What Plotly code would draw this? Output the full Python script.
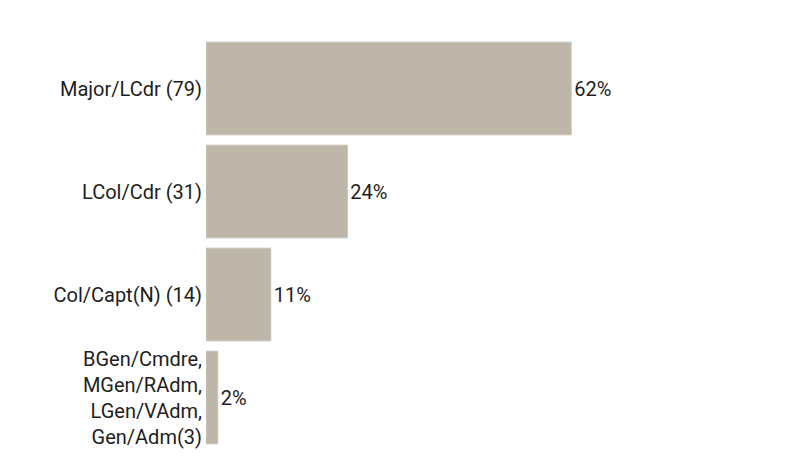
import plotly.graph_objects as go

categories = ["Major/LCdr (79)", "LCol/Cdr (31)", "Col/Capt(N) (14)",
              "BGen/Cmdre,<br>MGen/RAdm,<br>LGen/VAdm,<br>Gen/Adm(3)"]
values = [62, 24, 11, 2]
labels = ["62%", "24%", "11%", "2%"]

fig = go.Figure(go.Bar(
    x=values, y=categories, orientation="h",
    marker=dict(color="#bdb6a9", line=dict(color="#c9c3b8", width=1)),
    text=labels, textposition="outside", cliponaxis=False,
    textfont=dict(color="#1e1e1e", size=20, family="Roboto"),
))
fig.update_layout(
    width=800, height=460,
    margin=dict(l=198, r=13, t=29, b=19),
    paper_bgcolor="white", plot_bgcolor="white",
    bargap=0.1, showlegend=False,
    font=dict(family="Roboto", size=20, color="#1e1e1e"),
)
fig.update_xaxes(range=[0, 100], visible=False)
fig.update_yaxes(autorange="reversed", showgrid=False, showline=False,
                 ticks="", ticklabelstandoff=3, tickfont=dict(size=20, color="#1e1e1e"))
fig.write_html("out.html")
